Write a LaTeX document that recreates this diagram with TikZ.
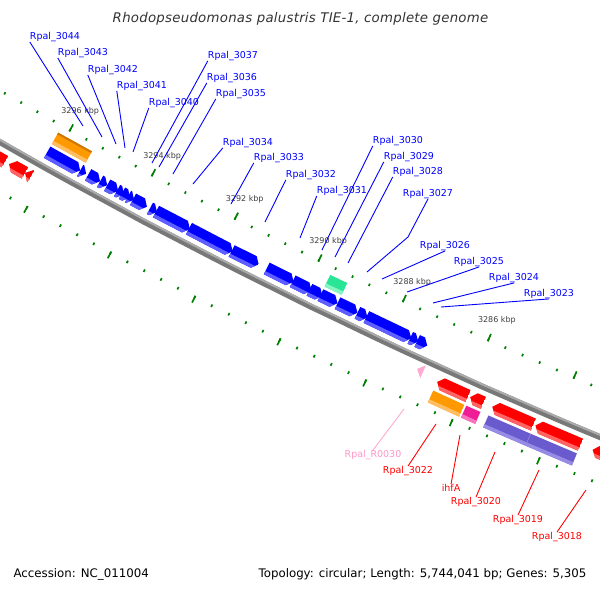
\documentclass[tikz,border=0pt]{standalone}
\usepackage{fontspec}
\setmainfont{DejaVu Sans}

\definecolor{genblue}{RGB}{0,0,255}
\definecolor{genbluelt}{RGB}{95,95,255}
\definecolor{genred}{RGB}{255,0,0}
\definecolor{genredlt}{RGB}{255,100,100}
\definecolor{cogorange}{RGB}{255,153,0}
\definecolor{cogorangelt}{RGB}{255,190,100}
\definecolor{cogorangedk}{RGB}{205,120,0}
\definecolor{cogteal}{RGB}{40,230,150}
\definecolor{cogteallt}{RGB}{135,245,195}
\definecolor{cogmagenta}{RGB}{240,30,150}
\definecolor{cogmagentalt}{RGB}{250,115,190}
\definecolor{cogpurple}{RGB}{105,90,205}
\definecolor{cogpurplelt}{RGB}{150,140,230}
\definecolor{rnapink}{RGB}{255,170,210}
\definecolor{labpink}{RGB}{255,150,200}
\definecolor{tickgreen}{RGB}{0,128,0}
\definecolor{bbgray}{RGB}{120,120,120}
\definecolor{bbgraylt}{RGB}{170,170,170}

% point on the map: position along the backbone (px), radius
\newcommand\gp[2]{({acos((#1-2686)/5419)}:{#2})}

\begin{document}
\begin{tikzpicture}[x=1pt, y=-1pt,
    blab/.style={inner sep=0pt, text=genblue, font=\fontsize{9.5}{11}\selectfont},
    rlab/.style={inner sep=0pt, text=genred, font=\fontsize{9.5}{11}\selectfont},
    bline/.style={genblue, line width=0.9pt},
    rline/.style={genred, line width=0.9pt},
    kbplab/.style={inner sep=0pt, text=black!75, font=\fontsize{8}{9}\selectfont},
    tick/.style={tickgreen, line width=1.7pt}]
\useasboundingbox (0,0) rectangle (600,600);
\fill[white] (0,0) rectangle (600,600);
\clip (0,0) rectangle (600,600);

\begin{scope}[shift={(2686,-4564)}]
  % backbone
  \draw[bbgray, line width=6pt] plot[domain=112:120.3, samples=30] (\x:5419);
  \draw[bbgraylt, line width=2pt] plot[domain=112:120.3, samples=30] (\x:5417);

  % ticks
  \foreach \k in {-35,...,5}{
    \draw[tick] ({119.13+0.1996*\k}:5372.8) -- ({119.13+0.1996*\k}:5375.4);
    \draw[tick] ({119.13+0.1996*\k}:5461) -- ({119.13+0.1996*\k}:5463.8);
  }
  \foreach \k in {-35,-30,...,5}{
    \draw[tick] ({119.13+0.1996*\k}:5367.5) -- ({119.13+0.1996*\k}:5375.4);
    \draw[tick] ({119.13+0.1996*\k}:5461) -- ({119.13+0.1996*\k}:5468.5);
  }
  \foreach \k/\t in {0/3296,-5/3294,-10/3292,-15/3290,-20/3288,-25/3286}
    \node[kbplab] (kbp\t) at ({119.13+0.1996*\k}:5353) {\t\ kbp};

  % reverse strand genes
  \foreach \a/\b in {40/73,73/79,81/93,93/100,100/111,110/117,115/123,121/127,126/140,143/150,149/183,182/226,225/252,260/287,286/305,303/316,314/331,331/351,351/361,360/405,404/412,411/421}{
    \begin{scope}
      \clip \gp{\a}{5398} -- \gp{max(\a,\b-5)}{5398} -- \gp{\b}{5404.5} -- \gp{max(\a,\b-5)}{5411} -- \gp{\a}{5411} -- cycle;
      \fill[genblue] \gp{\a}{5390} -- \gp{\b}{5390} -- \gp{\b}{5420} -- \gp{\a}{5420} -- cycle;
      \fill[genbluelt] \gp{\a}{5407.5} -- \gp{\b}{5407.5} -- \gp{\b}{5420} -- \gp{\a}{5420} -- cycle;
    \end{scope}
  }

  % forward strand genes
  \foreach \a/\b in {-40/12,16/32,32/38,443/474,476/489,498/539,541/586,598/616}{
    \begin{scope}
      \clip \gp{\a}{5433.5} -- \gp{min(\b,\a+5)}{5427} -- \gp{\b}{5427} -- \gp{\b}{5440} -- \gp{min(\b,\a+5)}{5440} -- cycle;
      \fill[genred] \gp{\a}{5420} -- \gp{\b}{5420} -- \gp{\b}{5450} -- \gp{\a}{5450} -- cycle;
      \fill[genredlt] \gp{\a}{5436.5} -- \gp{\b}{5436.5} -- \gp{\b}{5450} -- \gp{\a}{5450} -- cycle;
    \end{scope}
  }
  \fill[rnapink] \gp{421.5}{5430} -- \gp{427.5}{5423} -- \gp{427.5}{5437} -- cycle;

  % COG categories
  \foreach \a/\b/\c/\r in {40/74/cogorange/5382, 314/331/cogteal/5382, 443/474/cogorange/5443, 476/490/cogmagenta/5443, 498/540/cogpurple/5443, 540/586/cogpurple/5443}{
    \fill[\c] \gp{\a}{\r} -- \gp{\b}{\r} -- \gp{\b}{\r+13} -- \gp{\a}{\r+13} -- cycle;
    \fill[\c lt] \gp{\a}{\r+9.5} -- \gp{\b}{\r+9.5} -- \gp{\b}{\r+13} -- \gp{\a}{\r+13} -- cycle;
  }
  \fill[cogorangedk] \gp{40}{5382} -- \gp{74}{5382} -- \gp{74}{5384} -- \gp{40}{5384} -- cycle;
  \draw[cogpurplelt, line width=0.4pt] \gp{540}{5443} -- \gp{540}{5456};
\end{scope}

% labels, reverse strand
\foreach \n/\lx/\ly/\gx/\gy in {3044/55/37/83/126, 3043/83/53/102/137, 3042/113/70/116/144, 3041/142/86/125/148, 3040/174/103/133/152, 3037/233/56/152/163, 3036/232/78/159/167, 3035/241/94/173/174, 3034/248/143/193/184, 3033/279/158/231/204, 3032/311/175/265/222, 3031/342/191/300/238, 3030/398/141/322/250, 3029/409/157/335/257, 3028/418/172/348/263}{
  \node[blab] (l\n) at (\lx,\ly) {Rpal\_\n};
  \coordinate (g\n) at (\gx,\gy);
  \draw[bline] (g\n) -- (l\n.south west);
}
\foreach \n/\lx/\ly/\gx/\gy in {3026/445/246/382/279, 3025/479/262/407/292, 3024/514/278/433/303, 3023/549/294/441/307}{
  \node[blab] (l\n) at (\lx,\ly) {Rpal\_\n};
  \coordinate (g\n) at (\gx,\gy);
  \draw[bline] (g\n) -- (l\n.south);
}
\node[blab] (l3027) at (428,194) {Rpal\_3027};
\coordinate (g3027) at (367,272);
\coordinate (k3027) at (408,237);
\draw[bline] (g3027) -- (k3027) -- (l3027.south);

% labels, forward strand
\foreach \n/\t/\lx/\ly/\gx/\gy in {3022/Rpal\_3022/408/471/436/424, ihfA/ihfA/451/488/460/435, 3020/Rpal\_3020/476/502/495/452, 3019/Rpal\_3019/518/520/539/470, 3018/Rpal\_3018/557/537/586/490}{
  \node[rlab] (l\n) at (\lx,\ly) {\t};
  \coordinate (g\n) at (\gx,\gy);
  \draw[rline] (g\n) -- (l\n.north);
}
\node[rlab, text=labpink] (lR0030) at (373,455) {Rpal\_R0030};
\coordinate (gR0030) at (404,409);
\draw[rnapink, line width=0.9pt] (gR0030) -- (lR0030.north);

% title and footer
\node[anchor=base, text=black!80, font=\fontsize{13.3}{15}\selectfont\itshape\addfontfeature{LetterSpace=2}] (title) at (300.5,22) {Rhodopseudomonas palustris TIE-1, complete genome};
\node[anchor=base west, font=\fontsize{11.8}{14}\selectfont] (accession) at (10,577.5) {Accession: NC\_011004};
\node[anchor=base east, font=\fontsize{11.8}{14}\selectfont] (topology) at (590,577.5) {Topology: circular; Length: 5,744,041 bp; Genes: 5,305};
\end{tikzpicture}
\end{document}
